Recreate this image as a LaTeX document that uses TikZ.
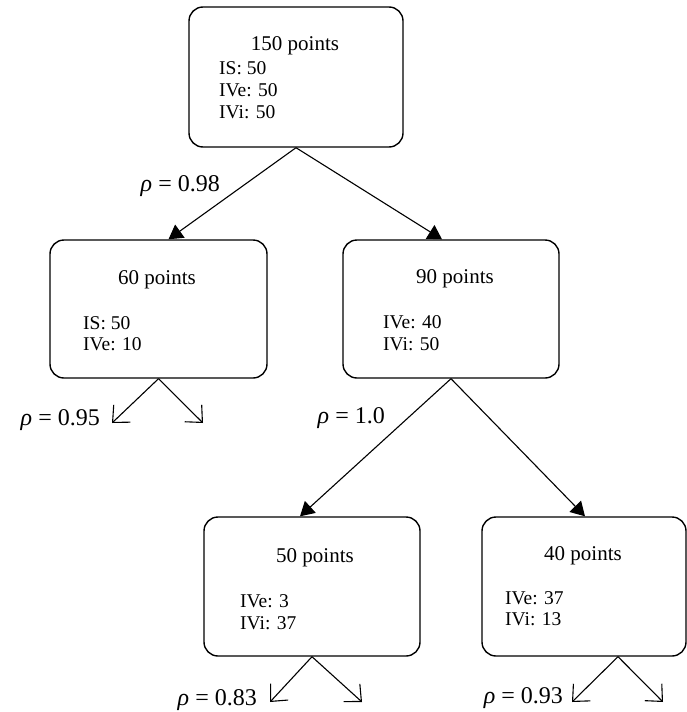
\documentclass[tikz,border=0pt]{standalone}
\usepackage{fontspec}
\setmainfont{Liberation Serif}
\usetikzlibrary{shapes,arrows.meta,positioning,calc}
\tikzset{
box/.style = {draw, rectangle, rounded corners=14pt, line width=1.4pt},
head/.style = {font=\fontsize{21}{21}\selectfont, anchor=base, inner sep=0pt},
info/.style = {font=\fontsize{19.5}{20}\selectfont, anchor=base west, inner sep=0pt},
rholab/.style = {font=\fontsize{24}{24}\selectfont, anchor=base east, inner sep=0pt},
split/.style = {-{Triangle[length=14pt,width=16pt]}, line width=1.1pt},
leaf/.style = {-{Straight Barb[length=13pt,width=24pt]}, line width=1.1pt}
}

\begin{document}
\begin{tikzpicture}[x=1pt,y=-1pt]
    \useasboundingbox (0,0) rectangle (687,712);

    \node[box, minimum width=214pt, minimum height=140pt] (root) at (296,77) {};
    \node[box, minimum width=217pt, minimum height=138pt] (ml) at (158.5,309) {};
    \node[box, minimum width=216pt, minimum height=138pt] (mr) at (451,309) {};
    \node[box, minimum width=216pt, minimum height=139pt] (bl) at (312,586.5) {};
    \node[box, minimum width=204pt, minimum height=139pt] (br) at (584,586.5) {};

    \node[head] (roothead) at (295,50) {150 points};
    \node[info] (root1) at (219,74.5) {IS: 50};
    \node[info] (root2) at (219,96.5) {IVe: 50};
    \node[info] (root3) at (219,118.5) {IVi: 50};

    \node[head] (mlhead) at (157,284) {60 points};
    \node[info] (ml1) at (83,329) {IS: 50};
    \node[info] (ml2) at (83,350) {IVe: 10};

    \node[head] (mrhead) at (455,283) {90 points};
    \node[info] (mr1) at (383,328) {IVe: 40};
    \node[info] (mr2) at (383,350) {IVi: 50};

    \node[head] (blhead) at (315,562) {50 points};
    \node[info] (bl1) at (240,607) {IVe: 3};
    \node[info] (bl2) at (240,629) {IVi: 37};

    \node[head] (brhead) at (583,560) {40 points};
    \node[info] (br1) at (505,604) {IVe: 37};
    \node[info] (br2) at (505,625) {IVi: 13};

    \draw[split] (root.south) -- ([xshift=10pt]ml.north);
    \draw[split] (root.south) -- ([xshift=-9pt]mr.north);
    \draw[split] (mr.south) -- ([xshift=-12pt]bl.north);
    \draw[split] (mr.south) -- ([xshift=1pt]br.north);

    \coordinate (mlL) at (112,423);
    \coordinate (mlR) at (203,423);
    \coordinate (blL) at (270,702);
    \coordinate (blR) at (362,702);
    \coordinate (brL) at (572,702);
    \coordinate (brR) at (663,702);

    \draw[leaf] (ml.south) -- (mlL);
    \draw[leaf] (ml.south) -- (mlR);
    \draw[leaf] (bl.south) -- (blL);
    \draw[leaf] (bl.south) -- (blR);
    \draw[leaf] ([xshift=34pt]br.south) -- (brL);
    \draw[leaf] ([xshift=34pt]br.south) -- (brR);

    \node[rholab] (rho1) at (220,191) {\textit{ρ} = 0.98};
    \node[rholab] (rho2) at (100,425) {\textit{ρ} = 0.95};
    \node[rholab] (rho3) at (385,423) {\textit{ρ} = 1.0};
    \node[rholab] (rho4) at (257,705) {\textit{ρ} = 0.83};
    \node[rholab] (rho5) at (563,703) {\textit{ρ} = 0.93};
\end{tikzpicture}
\end{document}
